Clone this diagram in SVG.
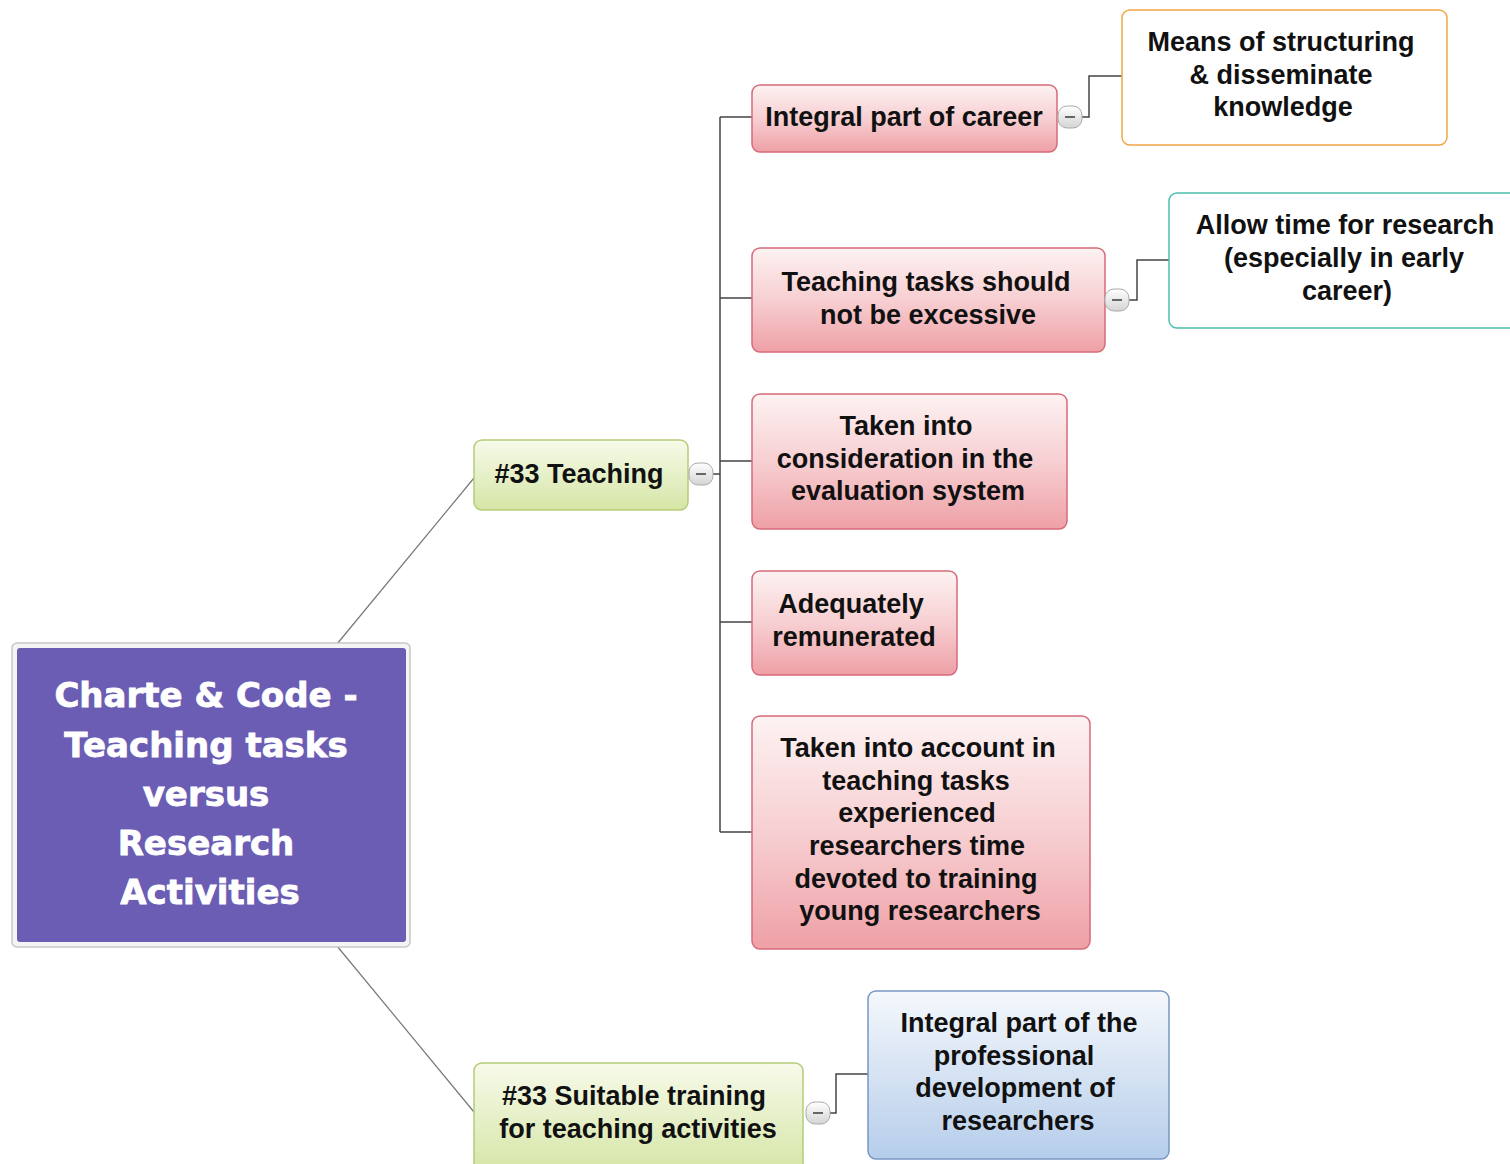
<svg xmlns="http://www.w3.org/2000/svg" width="1510" height="1164" viewBox="0 0 1510 1164">
<defs>
<linearGradient id="gRed" x1="0" y1="0" x2="0" y2="1"><stop offset="0" stop-color="#fdf2f2"/><stop offset="0.5" stop-color="#f7cfd2"/><stop offset="1" stop-color="#eea0a6"/></linearGradient>
<linearGradient id="gGreen" x1="0" y1="0" x2="0" y2="1"><stop offset="0" stop-color="#f7faea"/><stop offset="1" stop-color="#d5e6a6"/></linearGradient>
<linearGradient id="gBlue" x1="0" y1="0" x2="0" y2="1"><stop offset="0" stop-color="#f5f8fc"/><stop offset="1" stop-color="#b5cdea"/></linearGradient>
<linearGradient id="gBtn" x1="0" y1="0" x2="0" y2="1"><stop offset="0" stop-color="#ffffff"/><stop offset="1" stop-color="#d4d4d4"/></linearGradient>
</defs>
<style>
.t{font-family:"Liberation Sans",Arial,sans-serif;font-weight:bold;font-size:27px;fill:#111;text-anchor:middle}
.rt{font-family:"DejaVu Sans","Liberation Sans",sans-serif;font-weight:bold;font-size:34px;fill:#fff;stroke:#fff;stroke-width:0.8;text-anchor:middle}
.red{fill:url(#gRed);stroke:#d66b7a;stroke-width:1.5}
.grn{fill:url(#gGreen);stroke:#b5cc78;stroke-width:1.5}
.btn{fill:url(#gBtn);stroke:#aaa;stroke-width:1}
.bt{stroke:#666;stroke-width:2}
.c{fill:none;stroke:#444;stroke-width:1.5}
.cr{fill:none;stroke:#777;stroke-width:1.2}
</style>
<rect width="1510" height="1164" fill="#fff"/>
<g id="connectors">
<line class="cr" x1="337" y1="644" x2="474" y2="478"/>
<line class="cr" x1="337" y1="946" x2="474" y2="1112"/>
<path class="c" d="M713 474 H720 M720 117 V832 M720 117 H752 M720 298 H752 M720 461 H752 M720 622 H752 M720 832 H752"/>
<path class="c" d="M1082 117 H1089 V76 H1122"/>
<path class="c" d="M1129 300 H1137 V260 H1169"/>
<path class="c" d="M830 1113 H836 V1074 H868"/>
</g>
<g id="root">
<rect x="12" y="643" width="398" height="304" rx="5" fill="#f4f4f4" stroke="#c8c8c8" stroke-width="1.5"/>
<rect x="17" y="648" width="389" height="294" rx="3" fill="#6a5db3"/>
<text class="rt" x="206" y="707">Charte &amp; Code -</text>
<text class="rt" x="206" y="757">Teaching tasks</text>
<text class="rt" x="206" y="806">versus</text>
<text class="rt" x="206" y="855">Research</text>
<text class="rt" x="210" y="904">Activities</text>
</g>
<g id="teaching">
<rect class="grn" x="474" y="440" width="214" height="70" rx="8"/>
<text class="t" x="579" y="483">#33 Teaching</text>
<rect class="btn" x="689" y="463" width="24" height="22" rx="9"/>
<line class="bt" x1="696" y1="474" x2="706" y2="474"/>
</g>
<g id="integral-career">
<rect class="red" x="752" y="85" width="305" height="67" rx="8"/>
<text class="t" x="904" y="126">Integral part of career</text>
<rect class="btn" x="1058" y="106" width="24" height="22" rx="9"/>
<line class="bt" x1="1065" y1="117" x2="1075" y2="117"/>
</g>
<g id="means">
<rect x="1122" y="10" width="325" height="135" rx="8" fill="#fff" stroke="#f0a545" stroke-width="1.5"/>
<text class="t" x="1281" y="51">Means of structuring</text>
<text class="t" x="1281" y="84">&amp; disseminate</text>
<text class="t" x="1283" y="116">knowledge</text>
</g>
<g id="not-excessive">
<rect class="red" x="752" y="248" width="353" height="104" rx="8"/>
<text class="t" x="926" y="291">Teaching tasks should</text>
<text class="t" x="928" y="324">not be excessive</text>
<rect class="btn" x="1105" y="289" width="24" height="22" rx="9"/>
<line class="bt" x1="1112" y1="300" x2="1122" y2="300"/>
</g>
<g id="allow-time">
<rect x="1169" y="193" width="350" height="135" rx="8" fill="#fff" stroke="#4dbfae" stroke-width="1.5"/>
<text class="t" x="1345" y="234">Allow time for research</text>
<text class="t" x="1344" y="267">(especially in early</text>
<text class="t" x="1347" y="300">career)</text>
</g>
<g id="consideration">
<rect class="red" x="752" y="394" width="315" height="135" rx="8"/>
<text class="t" x="906" y="435">Taken into</text>
<text class="t" x="905" y="468">consideration in the</text>
<text class="t" x="908" y="500">evaluation system</text>
</g>
<g id="remunerated">
<rect class="red" x="752" y="571" width="205" height="104" rx="8"/>
<text class="t" x="851" y="613">Adequately</text>
<text class="t" x="854" y="646">remunerated</text>
</g>
<g id="account">
<rect class="red" x="752" y="716" width="338" height="233" rx="8"/>
<text class="t" x="918" y="757">Taken into account in</text>
<text class="t" x="916" y="790">teaching tasks</text>
<text class="t" x="917" y="822">experienced</text>
<text class="t" x="917" y="855">researchers time</text>
<text class="t" x="916" y="888">devoted to training</text>
<text class="t" x="920" y="920">young researchers</text>
</g>
<g id="suitable-training">
<rect class="grn" x="474" y="1063" width="329" height="110" rx="8"/>
<text class="t" x="634" y="1105">#33 Suitable training</text>
<text class="t" x="638" y="1138">for teaching activities</text>
<rect class="btn" x="806" y="1102" width="24" height="22" rx="9"/>
<line class="bt" x1="813" y1="1113" x2="823" y2="1113"/>
</g>
<g id="professional">
<rect x="868" y="991" width="301" height="168" rx="8" fill="url(#gBlue)" stroke="#7a97c4" stroke-width="1.5"/>
<text class="t" x="1019" y="1032">Integral part of the</text>
<text class="t" x="1014" y="1065">professional</text>
<text class="t" x="1015" y="1097">development of</text>
<text class="t" x="1018" y="1130">researchers</text>
</g>
</svg>
